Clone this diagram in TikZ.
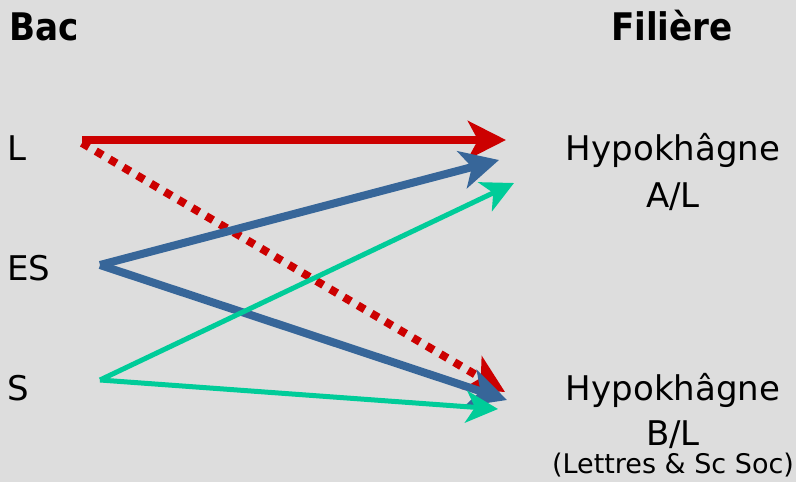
\documentclass[tikz,border=0pt]{standalone}
\usepackage{fontspec}
\setmainfont{DejaVu Sans}
\newfontfamily\headfont{DejaVu Sans Condensed}
\usetikzlibrary{arrows.meta}
\definecolor{bg}{HTML}{DDDDDD}
\definecolor{cred}{HTML}{CC0000}
\definecolor{cblue}{HTML}{376699}
\definecolor{cgreen}{HTML}{00CC99}
\tikzset{
  lbl/.style={inner sep=0pt, font=\fontsize{34}{38}\selectfont},
  head/.style={inner sep=0pt, font=\headfont\bfseries\fontsize{38}{42}\selectfont},
  small/.style={inner sep=0pt, font=\fontsize{27}{30}\selectfont},
  tip/.style={-{Stealth[length=38pt,width=38pt,inset=10pt]}},
  thick8/.style={line width=8pt, tip},
  thin5/.style={line width=5pt, -{Stealth[length=32pt,width=32pt,inset=9pt]}},
}
\begin{document}
\begin{tikzpicture}[x=1pt,y=-1pt]
\fill[bg] (0,0) rectangle (796,482);
\useasboundingbox (0,0) rectangle (796,482);
\node[head, anchor=base west] (bac) at (9,40) {Bac};
\node[head, anchor=base west] (fil) at (611,40) {Filière};
\node[lbl, anchor=base west] (l) at (7,160) {L};
\node[lbl, anchor=base west] (es) at (7,280) {ES};
\node[lbl, anchor=base west] (s) at (7,400) {S};
\node[lbl, anchor=base] (h1) at (673,160) {Hypokhâgne};
\node[lbl, anchor=base] (al) at (673,207) {A/L};
\node[lbl, anchor=base] (h2) at (673,400) {Hypokhâgne};
\node[lbl, anchor=base] (bl) at (673,445) {B/L};
\node[small, anchor=base] (ls) at (673,473) {(Lettres \& Sc Soc)};
\coordinate (lA) at (82,140);
\coordinate (lB) at (82,143);
\coordinate (esA) at (100,265);
\coordinate (sA) at (100,380);
\coordinate (t1r) at (506,140);
\coordinate (t1b) at (499,160);
\coordinate (t1g) at (514,183);
\coordinate (t2r) at (505,392);
\coordinate (t2b) at (507,400);
\coordinate (t2g) at (498,409);
\draw[thick8, cred] (lA) -- (t1r);
\draw[thick8, cred, dash pattern=on 8pt off 8pt] (lB) -- (t2r);
\draw[thick8, cblue] (esA) -- (t1b);
\draw[thick8, cblue] (esA) -- (t2b);
\draw[thin5, cgreen] (sA) -- (t1g);
\draw[thin5, cgreen] (sA) -- (t2g);
\end{tikzpicture}
\end{document}
